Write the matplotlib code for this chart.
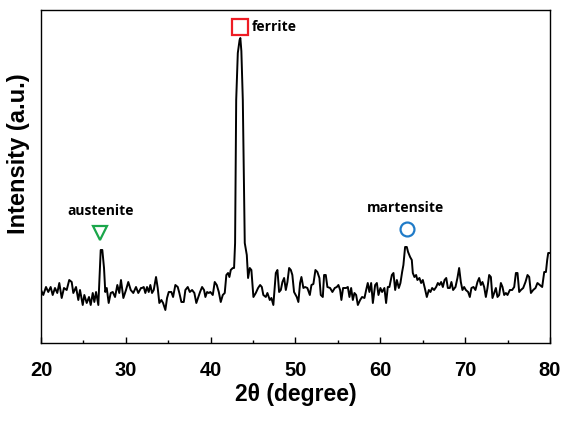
import matplotlib
matplotlib.use("Agg")
import matplotlib.pyplot as plt

# XRD pattern (2theta in degree, intensity in a.u.)
two_theta = [
    20.00, 20.27, 20.59, 20.86, 21.14, 21.38, 21.65, 21.92, 22.16, 22.44,
    22.71, 23.03, 23.33, 23.62, 23.81, 24.13, 24.40, 24.60, 24.92, 25.11,
    25.39, 25.66, 25.86, 26.10, 26.29, 26.49, 26.76, 26.88, 27.04, 27.23,
    27.43, 27.58, 27.75, 27.98, 28.22, 28.46, 28.73, 29.00, 29.23, 29.43,
    29.71, 30.02, 30.29, 30.58, 30.88, 31.20, 31.47, 31.79,
    31.91, 32.11, 32.30, 32.50, 32.70, 32.89, 33.09, 33.29, 33.56, 33.76,
    33.95, 34.19, 34.39, 34.66, 34.86, 35.06, 35.37, 35.57, 35.84, 36.12,
    36.31, 36.55, 36.83, 37.02, 37.30, 37.54, 37.81, 38.08, 38.31, 38.51,
    38.75, 38.99, 39.22, 39.38, 39.58, 39.78, 39.96, 40.25, 40.48, 40.72,
    40.96, 41.19, 41.43, 41.66, 41.85, 42.05, 42.21, 42.37, 42.61, 42.76,
    42.88, 43.01, 43.20, 43.41, 43.50, 43.62, 43.79, 43.92, 44.02,
    44.26, 44.41, 44.61, 44.80, 45.04, 45.32, 45.59, 45.83, 46.03, 46.21,
    46.50, 46.69, 46.97, 47.16, 47.39, 47.68, 47.87, 48.07, 48.27, 48.46,
    48.66, 48.86, 49.05, 49.25, 49.45, 49.63, 49.83, 50.15, 50.34, 50.54,
    50.70, 50.93, 51.13, 51.40, 51.69, 51.88, 52.11, 52.35, 52.58, 52.82,
    52.98, 53.22, 53.37, 53.57, 53.76, 54.08, 54.35, 54.63, 54.87, 55.06,
    55.26, 55.41, 55.61,
    55.97, 56.17, 56.36, 56.56, 56.76, 56.95, 57.15, 57.35, 57.62, 57.85,
    58.13, 58.33, 58.52, 58.71, 58.92, 59.12, 59.39, 59.59, 59.78, 60.01,
    60.21, 60.48, 60.68, 60.88, 61.07, 61.36, 61.55, 61.75, 61.95, 62.18,
    62.37, 62.57, 62.72, 62.92, 63.12, 63.27, 63.51, 63.71, 63.83, 64.02,
    64.22, 64.37, 64.61, 64.81, 65.01, 65.24, 65.48, 65.72, 65.91, 66.11,
    66.34, 66.58, 66.78, 66.97, 67.17, 67.37, 67.57, 67.77, 67.96,
    68.19, 68.38, 68.58, 68.86, 69.09, 69.29, 69.49, 69.68, 69.88, 70.08,
    70.35, 70.55, 70.74, 70.98, 71.21, 71.45, 71.65, 71.85, 72.04, 72.24,
    72.44, 72.63, 72.83, 73.03, 73.22, 73.42, 73.62, 73.81, 74.01, 74.21,
    74.40, 74.60, 74.80, 74.99, 75.27, 75.54, 75.78, 75.98, 76.17, 76.37,
    76.57, 76.84, 77.11, 77.35, 77.55, 77.75, 78.02, 78.29, 78.52, 78.81,
    79.08, 79.32, 79.52, 79.67, 79.79, 80.00,
]
intensity = [
    53, 48, 56, 51, 56, 48, 55, 50, 60, 45,
    55, 53, 63, 61, 50, 56, 43, 53, 38, 48,
    40, 46, 38, 50, 41, 51, 38, 61, 93, 93,
    75, 51, 55, 40, 50, 51, 46, 58, 50, 63,
    45, 53, 61, 53, 50, 56, 50, 55,
    55, 56, 50, 56, 51, 58, 50, 53, 66, 55,
    40, 43, 40, 33, 45, 51, 51, 46, 58, 56,
    50, 41, 41, 53, 56, 51, 53, 50, 40, 45,
    51, 56, 53, 46, 51, 50, 51, 48, 61, 58,
    51, 41, 48, 50, 68, 70, 66, 73, 75, 75,
    100, 243, 290, 303, 305, 292, 243, 160, 100,
    88, 65, 75, 73, 46, 50, 55, 58, 56, 48,
    46, 50, 43, 45, 38, 70, 73, 51, 53, 61,
    65, 53, 61, 75, 73, 68, 51, 46, 41, 60,
    66, 55, 56, 55, 48, 58, 59, 73, 71, 65,
    48, 46, 68, 68, 56, 55, 51, 55, 56, 58,
    53, 43, 55,
    55, 56, 46, 55, 43, 50, 48, 38, 43, 46,
    45, 53, 60, 51, 60, 40, 58, 60, 48, 55,
    51, 55, 40, 56, 56, 68, 70, 53, 63, 55,
    60, 71, 78, 96, 96, 91, 86, 83, 70, 66,
    68, 63, 65, 60, 63, 55, 46, 53, 51, 55,
    53, 56, 60, 58, 61, 56, 63, 65, 55,
    55, 61, 53, 56, 65, 75, 61, 53, 56, 53,
    51, 46, 55, 56, 53, 61, 65, 58, 61, 56,
    46, 55, 68, 66, 45, 50, 55, 46, 48, 60,
    56, 48, 50, 48, 53, 53, 56, 70, 70, 51,
    53, 55, 61, 68, 66, 50, 53, 55, 60, 58,
    56, 71, 71, 83, 90, 90,
]

# phase markers
phases = ["austenite", "ferrite", "martensite"]
marker_x = [26.96, 43.47, 63.16]
marker_y = [110, 316, 114]
marker_style = ["v", "s", "o"]
marker_size = [10.5, 12, 10]
marker_color = ["#1aa64a", "#ee1c24", "#1f7bc8"]
label_x = [27.0, 44.9, 63.0]
label_y = [132, 316, 135]
label_ha = ["center", "left", "center"]

fig = plt.figure(figsize=(5.63, 4.21), dpi=100)
ax = fig.add_axes([0.0728, 0.1853, 0.9041, 0.7909])

ax.plot(two_theta, intensity, color="black", lw=1.4)

for i in range(len(phases)):
    ax.plot(marker_x[i], marker_y[i], marker=marker_style[i], ms=marker_size[i],
            mfc="none", mec=marker_color[i], mew=1.6, ls="none")
    ax.text(label_x[i], label_y[i], phases[i], ha=label_ha[i], va="center",
            fontsize=10, fontweight="bold", family="Open Sans")

ax.set_xlim(20, 80)
ax.set_ylim(0, 333)
ax.set_xticks([20, 30, 40, 50, 60, 70, 80])
ax.set_xticks([25, 35, 45, 55, 65, 75], minor=True)
ax.set_yticks([])
ax.tick_params(axis="x", which="major", direction="in", length=4, width=1,
               pad=13, labelsize=14.5)
ax.tick_params(axis="x", which="minor", direction="in", length=2.5, width=1)
for lab in ax.get_xticklabels():
    lab.set_fontweight("bold")
    lab.set_family("Liberation Sans")
for s in ax.spines.values():
    s.set_linewidth(1.0)

ax.set_xlabel("2θ (degree)", fontsize=16.5, fontweight="bold",
              family="Liberation Sans")
ax.set_ylabel("Intensity (a.u.)", fontsize=17, fontweight="bold",
              family="Liberation Sans")
ax.xaxis.set_label_coords(0.5, -0.12)
ax.yaxis.set_label_coords(-0.021, 0.57)

fig.savefig("out.png", dpi=100)
